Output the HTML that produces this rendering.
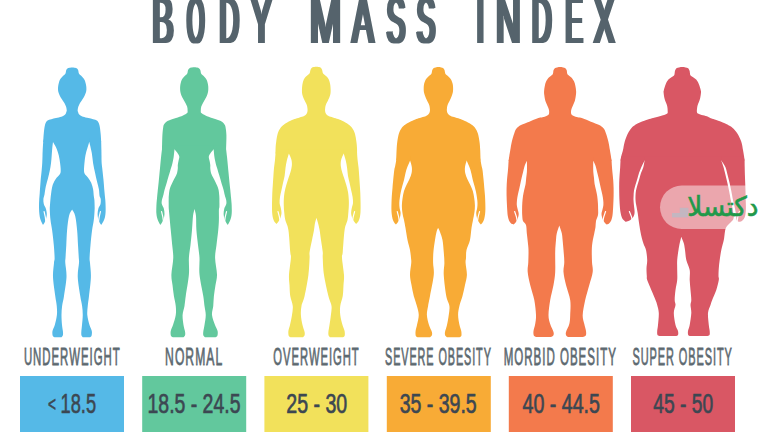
<!DOCTYPE html>
<html><head><meta charset="utf-8"><title>Body Mass Index</title>
<style>
html,body{margin:0;padding:0;background:#fff;}
text{font-kerning:none;}
body{width:768px;height:432px;overflow:hidden;position:relative;}
svg{position:absolute;left:0;top:0;display:block;}
.t{font-family:"Liberation Sans",sans-serif;font-weight:400;fill:#55646c;}
.l{font-family:"Liberation Sans",sans-serif;font-weight:400;fill:#5d6970;stroke:#5d6970;stroke-width:0.6px;vector-effect:non-scaling-stroke;}
.n{font-family:"Liberation Sans",sans-serif;font-weight:400;fill:#3c4752;stroke:#3c4752;stroke-width:0.6px;vector-effect:non-scaling-stroke;}
.wm{font-family:"DejaVu Sans",sans-serif;font-weight:400;fill:#21994a;stroke:#21994a;stroke-width:0.5px;}
</style></head>
<body>
<svg width="768" height="432" viewBox="0 0 768 432">
<defs><filter id="dx" x="-5%" y="-5%" width="110%" height="110%"><feMorphology operator="dilate" radius="1.5 0"/></filter></defs>
<rect width="768" height="432" fill="#ffffff"/>
<g fill="#55b9e7"><path d="M72.2 67.4C71.75 67.45 70.3 67.51 69.5 67.7C68.7 67.89 67.95 68.13 67.4 68.55C66.85 68.98 66.47 69.59 66.2 70.25C65.93 70.91 66 71.83 65.8 72.5C65.6 73.17 65.43 73.75 65 74.3C64.57 74.85 63.8 75.22 63.2 75.8C62.6 76.38 61.97 77.05 61.4 77.75C60.83 78.45 60.22 79.17 59.8 80C59.38 80.83 59.17 81.75 58.9 82.75C58.63 83.75 58.35 84.96 58.2 86C58.05 87.04 57.98 88.04 58 89C58.02 89.96 58.02 90.67 58.3 91.75C58.58 92.83 59.1 94.25 59.7 95.5C60.3 96.75 61.12 98 61.9 99.25C62.68 100.5 63.7 101.75 64.4 103C65.1 104.25 65.71 105.5 66.1 106.75C66.49 108 66.72 109.62 66.75 110.5C66.78 111.38 66.49 111.42 66.3 112C66.11 112.58 66.07 113.37 65.6 114C65.13 114.63 64.22 115.35 63.5 115.8C62.78 116.25 62.55 116.33 61.3 116.7C60.05 117.07 57.67 117.58 56 118C54.33 118.42 52.77 118.73 51.3 119.2C49.83 119.67 48.25 119.83 47.2 120.8C46.15 121.77 45.57 122.92 45 125C44.43 127.08 44.1 130.47 43.8 133.3C43.5 136.13 43.3 140.55 43.2 142L101.2 142C101.1 140.55 100.9 136.13 100.6 133.3C100.3 130.47 99.97 127.08 99.4 125C98.83 122.92 98.25 121.77 97.2 120.8C96.15 119.83 94.57 119.67 93.1 119.2C91.63 118.73 90.07 118.42 88.4 118C86.73 117.58 84.35 117.07 83.1 116.7C81.85 116.33 81.62 116.25 80.9 115.8C80.18 115.35 79.27 114.63 78.8 114C78.33 113.37 78.29 112.58 78.1 112C77.91 111.42 77.62 111.38 77.65 110.5C77.68 109.62 77.91 108 78.3 106.75C78.69 105.5 79.3 104.25 80 103C80.7 101.75 81.72 100.5 82.5 99.25C83.28 98 84.1 96.75 84.7 95.5C85.3 94.25 85.82 92.83 86.1 91.75C86.38 90.67 86.38 89.96 86.4 89C86.42 88.04 86.35 87.04 86.2 86C86.05 84.96 85.77 83.75 85.5 82.75C85.23 81.75 85.02 80.83 84.6 80C84.18 79.17 83.57 78.45 83 77.75C82.43 77.05 81.8 76.38 81.2 75.8C80.6 75.22 79.83 74.85 79.4 74.3C78.97 73.75 78.8 73.17 78.6 72.5C78.4 71.83 78.47 70.91 78.2 70.25C77.93 69.59 77.55 68.98 77 68.55C76.45 68.13 75.7 67.89 74.9 67.7C74.1 67.51 72.65 67.45 72.2 67.4Z"/><path d="M53 142C53.53 142.97 55.23 145.55 56.2 147.8C57.17 150.05 58.15 152.92 58.8 155.5C59.45 158.08 59.78 160.92 60.1 163.3C60.42 165.68 60.7 168.07 60.7 169.8C60.7 171.53 60.75 172.4 60.1 173.7C59.45 175 57.78 176.3 56.8 177.6C55.82 178.9 54.95 180 54.2 181.5C53.45 183 52.83 184.45 52.3 186.6C51.77 188.75 51.32 192.17 51 194.4C50.68 196.63 50.57 198.23 50.4 200C50.23 201.77 50.1 203.33 50 205C49.9 206.67 49.72 207.5 49.8 210C49.88 212.5 50.12 216.67 50.5 220C50.88 223.33 51.55 225.83 52.1 230C52.65 234.17 53.38 240.33 53.8 245C54.22 249.67 54.57 255 54.6 258C54.63 261 54.27 259.83 54 263C53.73 266.17 52.79 271.5 53 277C53.21 282.5 54.62 291.17 55.25 296C55.88 300.83 56.48 302.83 56.75 306C57.02 309.17 57.23 311.83 56.9 315C56.57 318.17 55.53 322.33 54.8 325C54.07 327.67 52.83 329.17 52.5 331C52.17 332.83 52.38 334.95 52.8 336C53.22 337.05 54.63 337.08 55 337.3L61.5 337.3C61.72 337 62.55 336.38 62.8 335.5C63.05 334.62 63.13 333.75 63 332C62.87 330.25 62.25 327.83 62 325C61.75 322.17 61.48 318.17 61.5 315C61.52 311.83 61.68 309.17 62.1 306C62.52 302.83 63.27 300.83 64 296C64.73 291.17 66.28 282.5 66.5 277C66.72 271.5 65.47 266.17 65.3 263C65.13 259.83 65.33 261 65.5 258C65.67 255 66.03 249.67 66.3 245C66.57 240.33 66.65 234.83 67.1 230C67.55 225.17 68.17 219.4 69 216C69.83 212.6 71.58 210.67 72.1 209.6L72.1 209.6C72.62 210.67 74.37 212.6 75.2 216C76.03 219.4 76.63 225.17 77.1 230C77.57 234.83 77.72 240.33 78 245C78.28 249.67 78.63 255 78.8 258C78.97 261 79.17 259.83 79 263C78.83 266.17 77.54 271.5 77.75 277C77.96 282.5 79.53 291.17 80.25 296C80.97 300.83 81.68 302.83 82.1 306C82.52 309.17 82.77 311.83 82.75 315C82.73 318.17 82.24 322.17 82 325C81.76 327.83 81.38 330.25 81.3 332C81.22 333.75 81.25 334.62 81.5 335.5C81.75 336.38 82.58 337 82.8 337.3L89.5 337.3C89.83 337.08 91.12 337.05 91.5 336C91.88 334.95 92.13 332.83 91.8 331C91.47 329.17 90.25 327.67 89.5 325C88.75 322.33 87.59 318.17 87.3 315C87.01 311.83 87.47 309.17 87.75 306C88.03 302.83 88.47 300.83 89 296C89.53 291.17 90.73 282.5 90.9 277C91.07 271.5 90.22 266.17 90 263C89.78 259.83 89.52 261 89.6 258C89.68 255 90.08 249.67 90.5 245C90.92 240.33 91.55 234.17 92.1 230C92.65 225.83 93.38 223.33 93.8 220C94.22 216.67 94.47 212.5 94.6 210C94.73 207.5 94.63 206.67 94.6 205C94.57 203.33 94.53 201.5 94.4 200C94.27 198.5 94.02 197.8 93.8 196C93.58 194.2 93.53 191.42 93.1 189.2C92.67 186.98 92.07 184.63 91.2 182.7C90.33 180.77 88.98 179.1 87.9 177.6C86.82 176.1 85.35 175 84.7 173.7C84.05 172.4 84 171.97 84 169.8C84 167.63 84.37 163.5 84.7 160.7C85.03 157.9 85.23 156.12 86 153C86.77 149.88 88.75 143.83 89.3 142L89.3 138C83.25 138 59.05 138 53 138Z"/><path d="M43.2 142C43.12 143.33 42.82 147.67 42.7 150C42.58 152.33 42.57 154 42.5 156C42.43 158 42.43 159.67 42.3 162C42.17 164.33 41.98 166.83 41.7 170C41.42 173.17 40.93 177.08 40.6 181C40.27 184.92 39.93 190.33 39.7 193.5C39.47 196.67 39.32 197.92 39.2 200C39.08 202.08 39 204 39 206C39 208 39.07 210.17 39.2 212C39.33 213.83 39.5 215.5 39.8 217C40.1 218.5 40.47 219.67 41 221C41.53 222.33 42.67 224.33 43 225L43 225C43.27 224.58 44.1 223.5 44.6 222.5C45.1 221.5 45.63 220.42 46 219C46.37 217.58 46.83 215.75 46.8 214C46.77 212.25 46.3 210.17 45.8 208.5C45.3 206.83 44.2 205.58 43.8 204C43.4 202.42 43.28 200.6 43.4 199C43.52 197.4 44.1 196.47 44.5 194.4C44.9 192.33 45.25 189.18 45.8 186.6C46.35 184.02 47.15 181.48 47.8 178.9C48.45 176.32 49.17 173.7 49.7 171.1C50.23 168.5 50.67 165.9 51 163.3C51.33 160.7 51.48 158.08 51.7 155.5C51.92 152.92 52.08 150.05 52.3 147.8C52.52 145.55 52.88 142.97 53 142L53 138C51.53 138 45.67 138 44.2 138Z"/><path d="M101.2 142C101.23 143.33 101.35 147.67 101.4 150C101.45 152.33 101.47 154 101.5 156C101.53 158 101.48 160 101.6 162C101.72 164 101.9 165.17 102.2 168C102.5 170.83 103.03 175.17 103.4 179C103.77 182.83 104.08 187.5 104.4 191C104.72 194.5 105.1 197.5 105.3 200C105.5 202.5 105.55 204 105.6 206C105.65 208 105.7 210.17 105.6 212C105.5 213.83 105.33 215.5 105 217C104.67 218.5 104.23 219.67 103.6 221C102.97 222.33 101.6 224.33 101.2 225L101.2 225C100.93 224.58 100.1 223.5 99.6 222.5C99.1 221.5 98.53 220.42 98.2 219C97.87 217.58 97.57 215.75 97.6 214C97.63 212.25 97.92 210.17 98.4 208.5C98.88 206.83 100.12 205.58 100.5 204C100.88 202.42 100.85 200.33 100.7 199C100.55 197.67 99.9 197.63 99.6 196C99.3 194.37 99.33 191.62 98.9 189.2C98.47 186.78 97.65 184.3 97 181.5C96.35 178.7 95.65 175.43 95 172.4C94.35 169.37 93.63 166.53 93.1 163.3C92.57 160.07 92.43 156.55 91.8 153C91.17 149.45 89.72 143.83 89.3 142L89.3 138C91.12 138 98.38 138 100.2 138Z"/></g><g stroke="#fff" stroke-width="1.2" stroke-linecap="round" fill="none"><path d="M44.12 211.6Q45.56 217 46 222.5"/><path d="M100.41 211.6Q98.88 217 98.42 222.5"/></g>
<g fill="#62c89d"><path d="M194.2 67.3C193.73 67.35 192.24 67.41 191.41 67.6C190.58 67.79 189.81 68.01 189.24 68.45C188.67 68.89 188.27 69.58 188 70.25C187.73 70.92 187.8 71.83 187.6 72.5C187.4 73.17 187.23 73.75 186.8 74.3C186.37 74.85 185.6 75.22 185 75.8C184.4 76.38 183.75 77.05 183.2 77.75C182.65 78.45 182.1 79.17 181.7 80C181.3 80.83 181.05 81.75 180.8 82.75C180.55 83.75 180.32 84.96 180.2 86C180.08 87.04 180.07 88 180.1 89C180.13 90 180.18 90.92 180.4 92C180.62 93.08 180.93 94.33 181.4 95.5C181.87 96.67 182.52 97.75 183.2 99C183.88 100.25 184.78 101.71 185.45 103C186.12 104.29 186.84 105.5 187.2 106.75C187.56 108 187.6 109.46 187.6 110.5C187.6 111.54 187.97 112.17 187.2 113C186.43 113.83 184.87 114.67 183 115.5C181.13 116.33 178.17 117.25 176 118C173.83 118.75 171.6 119.38 170 120C168.4 120.62 167.4 121 166.4 121.75C165.4 122.5 164.53 123.62 164 124.5C163.47 125.38 163.52 125.25 163.25 127C162.98 128.75 162.61 131.3 162.4 135C162.19 138.7 162.07 146.83 162 149.2L226.1 149.2C226.15 146.83 226.5 138.7 226.4 135C226.3 131.3 225.82 128.75 225.5 127C225.18 125.25 225.08 125.38 224.5 124.5C223.92 123.62 223.08 122.5 222 121.75C220.92 121 219.67 120.62 218 120C216.33 119.38 214.08 118.75 212 118C209.92 117.25 207.28 116.33 205.5 115.5C203.72 114.67 202.08 113.83 201.3 113C200.52 112.17 200.82 111.54 200.8 110.5C200.78 109.46 200.84 108 201.2 106.75C201.56 105.5 202.28 104.29 202.95 103C203.62 101.71 204.52 100.25 205.2 99C205.88 97.75 206.53 96.67 207 95.5C207.47 94.33 207.78 93.08 208 92C208.22 90.92 208.27 90 208.3 89C208.33 88 208.32 87.04 208.2 86C208.08 84.96 207.85 83.75 207.6 82.75C207.35 81.75 207.1 80.83 206.7 80C206.3 79.17 205.75 78.45 205.2 77.75C204.65 77.05 204 76.38 203.4 75.8C202.8 75.22 202.03 74.85 201.6 74.3C201.17 73.75 201 73.17 200.8 72.5C200.6 71.83 200.67 70.92 200.4 70.25C200.13 69.58 199.73 68.89 199.16 68.45C198.59 68.01 197.82 67.79 196.99 67.6C196.16 67.41 194.66 67.35 194.2 67.3Z"/><path d="M174.5 149.2C175 149.83 176.7 151.75 177.5 153C178.3 154.25 179.13 155.37 179.3 156.7C179.47 158.03 178.75 159.62 178.5 161C178.25 162.38 177.92 163.78 177.8 165C177.68 166.22 177.93 166.92 177.8 168.3C177.67 169.68 177.47 171.77 177 173.3C176.53 174.83 175.7 176.1 175 177.5C174.3 178.9 173.5 180.28 172.8 181.7C172.1 183.12 171.35 184.62 170.8 186C170.25 187.38 169.82 188.5 169.5 190C169.18 191.5 169.03 193.62 168.9 195C168.77 196.38 168.73 196.35 168.7 198.3C168.67 200.25 168.67 204.75 168.7 206.7C168.73 208.65 168.72 207.78 168.9 210C169.08 212.22 169.49 216.67 169.8 220C170.11 223.33 170.35 225.83 170.75 230C171.15 234.17 171.78 240.33 172.2 245C172.62 249.67 173.38 253.08 173.25 258C173.12 262.92 171.53 270 171.4 274.5C171.28 279 172.08 281.42 172.5 285C172.92 288.58 173.36 292.5 173.9 296C174.44 299.5 175.44 302.83 175.75 306C176.06 309.17 176.21 311.83 175.75 315C175.29 318.17 173.83 322.33 173 325C172.17 327.67 171.08 329.17 170.75 331C170.42 332.83 170.54 334.95 171 336C171.46 337.05 173.08 337.08 173.5 337.3L183.5 337.3C183.75 337 184.73 336.38 185 335.5C185.27 334.62 185.35 333.75 185.1 332C184.85 330.25 183.92 327.83 183.5 325C183.08 322.17 182.43 318.17 182.6 315C182.77 311.83 183.97 309.17 184.5 306C185.03 302.83 185.02 301.25 185.75 296C186.48 290.75 188.38 280.83 188.9 274.5C189.43 268.17 188.63 262.92 188.9 258C189.17 253.08 189.98 249.67 190.5 245C191.02 240.33 191.58 234.83 192 230C192.42 225.17 192.58 219.5 193 216C193.42 212.5 194.25 210.17 194.5 209L194.5 209C194.75 210.17 195.68 212.5 196 216C196.32 219.5 196.07 225.17 196.4 230C196.73 234.83 197.48 240.33 198 245C198.52 249.67 199.25 253.08 199.5 258C199.75 262.92 198.88 268.17 199.5 274.5C200.12 280.83 202.42 290.75 203.25 296C204.08 301.25 204.08 302.83 204.5 306C204.92 309.17 205.75 311.83 205.75 315C205.75 318.17 204.92 322.17 204.5 325C204.08 327.83 203.43 330.25 203.25 332C203.07 333.75 203.11 334.62 203.4 335.5C203.69 336.38 204.73 337 205 337.3L215 337.3C215.38 337.08 216.87 337.05 217.3 336C217.73 334.95 217.98 332.83 217.6 331C217.22 329.17 215.93 327.67 215 325C214.07 322.33 212.29 318.17 212 315C211.71 311.83 212.93 309.17 213.25 306C213.57 302.83 213.53 299.5 213.9 296C214.28 292.5 214.98 288.58 215.5 285C216.02 281.42 217.07 279 217 274.5C216.93 270 215.18 262.92 215.1 258C215.02 253.08 215.97 249.67 216.5 245C217.03 240.33 217.85 234.17 218.25 230C218.65 225.83 218.79 223.33 218.9 220C219.01 216.67 218.82 212.22 218.9 210C218.98 207.78 219.32 208.65 219.4 206.7C219.48 204.75 219.43 200.25 219.4 198.3C219.37 196.35 219.33 196.38 219.2 195C219.07 193.62 218.92 191.5 218.6 190C218.28 188.5 217.85 187.38 217.3 186C216.75 184.62 216 183.12 215.3 181.7C214.6 180.28 213.8 178.9 213.1 177.5C212.4 176.1 211.57 174.83 211.1 173.3C210.63 171.77 210.43 169.68 210.3 168.3C210.17 166.92 210.42 166.22 210.3 165C210.18 163.78 209.85 162.38 209.6 161C209.35 159.62 208.63 158.03 208.8 156.7C208.97 155.37 209.8 154.25 210.6 153C211.4 151.75 213.1 149.83 213.6 149.2L213.6 145.2C207.08 145.2 181.02 145.2 174.5 145.2Z"/><path d="M162 149.2C161.85 150.45 161.38 154.07 161.1 156.7C160.82 159.33 160.57 162.23 160.3 165C160.03 167.77 159.77 170.52 159.5 173.3C159.23 176.08 158.98 178.92 158.7 181.7C158.42 184.48 158.08 187.23 157.8 190C157.52 192.77 157.22 195.97 157 198.3C156.78 200.63 156.62 202.05 156.5 204C156.38 205.95 156.32 208.42 156.3 210C156.28 211.58 156.3 212.33 156.4 213.5C156.5 214.67 156.6 215.75 156.9 217C157.2 218.25 157.63 219.67 158.2 221C158.77 222.33 159.95 224.33 160.3 225L160.3 225C160.58 224.58 161.45 223.5 162 222.5C162.55 221.5 163.18 220.42 163.6 219C164.02 217.58 164.47 215.75 164.5 214C164.53 212.25 164.25 210.17 163.8 208.5C163.35 206.83 162.12 205.42 161.8 204C161.48 202.58 161.73 201.17 161.9 200C162.07 198.83 162.53 197.92 162.8 197C163.07 196.08 163.22 195.67 163.5 194.5C163.78 193.33 164.13 191.42 164.5 190C164.87 188.58 165.28 187.38 165.7 186C166.12 184.62 166.58 183.12 167 181.7C167.42 180.28 167.78 178.9 168.2 177.5C168.62 176.1 169.08 174.72 169.5 173.3C169.92 171.88 170.28 170.38 170.7 169C171.12 167.62 171.63 166.33 172 165C172.37 163.67 172.62 162.38 172.9 161C173.18 159.62 173.43 158.67 173.7 156.7C173.97 154.73 174.37 150.45 174.5 149.2L174.5 145.2C172.58 145.2 164.92 145.2 163 145.2Z"/><path d="M226.1 149.2C226.25 150.45 226.72 154.07 227 156.7C227.28 159.33 227.53 162.23 227.8 165C228.07 167.77 228.33 170.52 228.6 173.3C228.87 176.08 229.12 178.92 229.4 181.7C229.68 184.48 230.02 187.23 230.3 190C230.58 192.77 230.88 195.97 231.1 198.3C231.32 200.63 231.48 202.05 231.6 204C231.72 205.95 231.78 208.42 231.8 210C231.82 211.58 231.8 212.33 231.7 213.5C231.6 214.67 231.5 215.75 231.2 217C230.9 218.25 230.47 219.67 229.9 221C229.33 222.33 228.15 224.33 227.8 225L227.8 225C227.52 224.58 226.65 223.5 226.1 222.5C225.55 221.5 224.92 220.42 224.5 219C224.08 217.58 223.63 215.75 223.6 214C223.57 212.25 223.85 210.17 224.3 208.5C224.75 206.83 225.98 205.42 226.3 204C226.62 202.58 226.37 201.17 226.2 200C226.03 198.83 225.57 197.92 225.3 197C225.03 196.08 224.88 195.67 224.6 194.5C224.32 193.33 223.97 191.42 223.6 190C223.23 188.58 222.82 187.38 222.4 186C221.98 184.62 221.52 183.12 221.1 181.7C220.68 180.28 220.32 178.9 219.9 177.5C219.48 176.1 219.02 174.72 218.6 173.3C218.18 171.88 217.82 170.38 217.4 169C216.98 167.62 216.47 166.33 216.1 165C215.73 163.67 215.48 162.38 215.2 161C214.92 159.62 214.67 158.67 214.4 156.7C214.13 154.73 213.73 150.45 213.6 149.2L213.6 145.2C215.52 145.2 223.18 145.2 225.1 145.2Z"/></g><g stroke="#fff" stroke-width="1.2" stroke-linecap="round" fill="none"><path d="M161.58 211.6Q163.15 217 163.62 222.5"/><path d="M226.52 211.6Q224.95 217 224.48 222.5"/></g>
<g fill="#f2e15b"><path d="M316.3 66.8C315.86 66.85 314.43 66.91 313.65 67.1C312.86 67.29 312.12 67.42 311.58 67.95C311.04 68.48 310.66 69.53 310.4 70.25C310.14 70.97 310.15 71.77 310 72.3C309.85 72.83 309.87 72.95 309.5 73.4C309.13 73.85 308.38 74.48 307.8 75C307.22 75.52 306.67 75.73 306 76.5C305.33 77.27 304.4 78.25 303.8 79.6C303.2 80.95 302.71 82.82 302.4 84.6C302.09 86.38 301.98 88.68 301.95 90.25C301.92 91.82 302.01 92.88 302.2 94C302.39 95.12 302.73 96 303.1 97C303.47 98 303.78 98.67 304.4 100C305.02 101.33 306.3 103.67 306.8 105C307.3 106.33 307.28 107.08 307.4 108C307.53 108.92 307.63 109.62 307.55 110.5C307.47 111.38 307.32 112.47 306.9 113.3C306.47 114.13 305.82 114.93 305 115.5C304.18 116.07 303.33 116.23 302 116.7C300.67 117.17 298.67 117.75 297 118.3C295.33 118.85 293.87 119.17 292 120C290.13 120.83 287.42 122.3 285.8 123.3C284.18 124.3 283.22 125.17 282.3 126C281.38 126.83 281.05 127.08 280.3 128.3C279.55 129.52 278.48 131.07 277.8 133.3C277.12 135.53 276.57 139.25 276.2 141.7C275.83 144.15 275.72 146.03 275.6 148C275.48 149.97 275.52 152.58 275.5 153.5L357.1 153.5C357.08 152.58 357.12 149.97 357 148C356.88 146.03 356.77 144.15 356.4 141.7C356.03 139.25 355.48 135.53 354.8 133.3C354.12 131.07 353.05 129.52 352.3 128.3C351.55 127.08 351.22 126.83 350.3 126C349.38 125.17 348.42 124.3 346.8 123.3C345.18 122.3 342.47 120.83 340.6 120C338.73 119.17 337.27 118.85 335.6 118.3C333.93 117.75 331.93 117.17 330.6 116.7C329.27 116.23 328.42 116.07 327.6 115.5C326.78 114.93 326.13 114.13 325.7 113.3C325.28 112.47 325.13 111.38 325.05 110.5C324.97 109.62 325.07 108.92 325.2 108C325.32 107.08 325.3 106.33 325.8 105C326.3 103.67 327.58 101.33 328.2 100C328.82 98.67 329.13 98 329.5 97C329.87 96 330.21 95.12 330.4 94C330.59 92.88 330.68 91.82 330.65 90.25C330.62 88.68 330.51 86.38 330.2 84.6C329.89 82.82 329.4 80.95 328.8 79.6C328.2 78.25 327.27 77.27 326.6 76.5C325.93 75.73 325.38 75.52 324.8 75C324.22 74.48 323.47 73.85 323.1 73.4C322.73 72.95 322.75 72.83 322.6 72.3C322.45 71.77 322.46 70.97 322.2 70.25C321.94 69.53 321.56 68.48 321.02 67.95C320.48 67.42 319.74 67.29 318.95 67.1C318.17 66.91 316.74 66.85 316.3 66.8Z"/><path d="M288.9 153.5C289.33 154.58 291.02 157.92 291.5 160C291.98 162.08 291.97 164 291.8 166C291.63 168 291.05 170 290.5 172C289.95 174 289.2 175.83 288.5 178C287.8 180.17 286.95 182.67 286.3 185C285.65 187.33 285.02 189.5 284.6 192C284.18 194.5 283.93 197.67 283.8 200C283.67 202.33 283.73 204 283.8 206C283.87 208 283.95 209.67 284.2 212C284.45 214.33 284.6 217 285.3 220C286 223 287.57 224.67 288.4 230C289.22 235.33 289.83 247.33 290.25 252C290.67 256.67 291.11 254.17 290.9 258C290.69 261.83 289.23 270.5 289 275C288.77 279.5 289.29 281.5 289.5 285C289.71 288.5 289.71 292.5 290.25 296C290.79 299.5 292.46 302.83 292.75 306C293.04 309.17 292.46 311.83 292 315C291.54 318.17 290.6 322.33 290 325C289.4 327.67 288.6 329.17 288.4 331C288.2 332.83 288.37 334.95 288.8 336C289.23 337.05 290.63 337.08 291 337.3L303 337.3C303.25 337 304.23 336.38 304.5 335.5C304.77 334.62 304.93 333.75 304.6 332C304.27 330.25 303.12 327.83 302.5 325C301.88 322.17 301.07 318.17 300.9 315C300.73 311.83 300.88 309.17 301.5 306C302.12 302.83 303.45 301.17 304.6 296C305.75 290.83 307.57 281.33 308.4 275C309.23 268.67 309.4 261.83 309.6 258C309.8 254.17 309.2 255 309.6 252C310 249 311.27 243.67 312 240C312.73 236.33 313.5 232.83 314 230C314.5 227.17 314.58 225.04 315 223C315.42 220.96 316.25 218.62 316.5 217.75L316.5 217.75C316.75 218.62 317.48 220.96 318 223C318.52 225.04 319.1 227.17 319.6 230C320.1 232.83 320.48 236.33 321 240C321.52 243.67 322.46 249 322.75 252C323.04 255 322.54 254.17 322.75 258C322.96 261.83 323.06 268.67 324 275C324.94 281.33 327.15 290.83 328.4 296C329.65 301.17 331.08 302.83 331.5 306C331.92 309.17 331.23 311.83 330.9 315C330.57 318.17 329.92 322.17 329.5 325C329.08 327.83 328.55 330.25 328.4 332C328.25 333.75 328.33 334.62 328.6 335.5C328.87 336.38 329.77 337 330 337.3L342.5 337.3C342.85 337.08 344.25 337.05 344.6 336C344.95 334.95 344.95 332.83 344.6 331C344.25 329.17 343.23 327.67 342.5 325C341.77 322.33 340.62 318.17 340.25 315C339.88 311.83 339.83 309.17 340.25 306C340.67 302.83 342.21 299.5 342.75 296C343.29 292.5 343.29 288.5 343.5 285C343.71 281.5 344.25 279.5 344 275C343.75 270.5 342.21 261.83 342 258C341.79 254.17 342.32 256.67 342.75 252C343.18 247.33 343.81 235.33 344.6 230C345.39 224.67 346.87 223 347.5 220C348.13 217 348.18 214.33 348.4 212C348.62 209.67 348.73 208 348.8 206C348.87 204 348.93 202.33 348.8 200C348.67 197.67 348.42 194.5 348 192C347.58 189.5 346.95 187.33 346.3 185C345.65 182.67 344.8 180.17 344.1 178C343.4 175.83 342.65 174 342.1 172C341.55 170 340.97 168 340.8 166C340.63 164 340.62 162.08 341.1 160C341.58 157.92 343.27 154.58 343.7 153.5L343.7 149.5C334.57 149.5 298.03 149.5 288.9 149.5Z"/><path d="M275.5 153.5C275.42 154.58 275.25 157.58 275 160C274.75 162.42 274.27 165.33 274 168C273.73 170.67 273.6 173.17 273.4 176C273.2 178.83 272.98 182.17 272.8 185C272.62 187.83 272.42 190.5 272.3 193C272.18 195.5 272.15 197.83 272.1 200C272.05 202.17 272 204 272 206C272 208 271.98 210.17 272.1 212C272.22 213.83 272.38 215.5 272.7 217C273.02 218.5 273.37 219.83 274 221C274.63 222.17 276.08 223.5 276.5 224L276.5 224C276.83 223.58 277.85 222.5 278.5 221.5C279.15 220.5 279.9 219.42 280.4 218C280.9 216.58 281.43 214.67 281.5 213C281.57 211.33 281.12 209.67 280.8 208C280.48 206.33 279.73 204.83 279.6 203C279.47 201.17 279.68 199.17 280 197C280.32 194.83 281 192.33 281.5 190C282 187.67 282.48 185.33 283 183C283.52 180.67 284.18 178.5 284.6 176C285.02 173.5 285.13 170.53 285.5 168C285.87 165.47 286.23 163.22 286.8 160.8C287.37 158.38 288.55 154.72 288.9 153.5L288.9 149.5C286.83 149.5 278.57 149.5 276.5 149.5Z"/><path d="M357.1 153.5C357.18 154.58 357.35 157.58 357.6 160C357.85 162.42 358.33 165.33 358.6 168C358.87 170.67 359 173.17 359.2 176C359.4 178.83 359.62 182.17 359.8 185C359.98 187.83 360.18 190.5 360.3 193C360.42 195.5 360.45 197.83 360.5 200C360.55 202.17 360.6 204 360.6 206C360.6 208 360.62 210.17 360.5 212C360.38 213.83 360.22 215.5 359.9 217C359.58 218.5 359.23 219.83 358.6 221C357.97 222.17 356.52 223.5 356.1 224L356.1 224C355.77 223.58 354.75 222.5 354.1 221.5C353.45 220.5 352.7 219.42 352.2 218C351.7 216.58 351.17 214.67 351.1 213C351.03 211.33 351.48 209.67 351.8 208C352.12 206.33 352.87 204.83 353 203C353.13 201.17 352.92 199.17 352.6 197C352.28 194.83 351.6 192.33 351.1 190C350.6 187.67 350.12 185.33 349.6 183C349.08 180.67 348.42 178.5 348 176C347.58 173.5 347.47 170.53 347.1 168C346.73 165.47 346.37 163.22 345.8 160.8C345.23 158.38 344.05 154.72 343.7 153.5L343.7 149.5C345.77 149.5 354.03 149.5 356.1 149.5Z"/></g><g stroke="#fff" stroke-width="1.2" stroke-linecap="round" fill="none"><path d="M278.01 211.6Q279.77 217 280.29 222.5"/><path d="M354.59 211.6Q352.83 217 352.31 222.5"/></g>
<g fill="#f8ab36"><path d="M438.4 67.1C437.93 67.15 436.44 67.21 435.61 67.4C434.78 67.59 434.01 67.78 433.44 68.25C432.87 68.72 432.47 69.54 432.2 70.25C431.93 70.96 431.98 71.83 431.8 72.5C431.62 73.17 431.53 73.75 431.1 74.3C430.67 74.85 429.85 75.22 429.2 75.8C428.55 76.38 427.82 77.05 427.2 77.75C426.58 78.45 426.02 78.96 425.5 80C424.98 81.04 424.4 82.67 424.1 84C423.8 85.33 423.73 86.67 423.7 88C423.67 89.33 423.67 90.67 423.9 92C424.13 93.33 424.62 94.67 425.1 96C425.58 97.33 426.12 98.5 426.8 100C427.48 101.5 428.7 103.67 429.2 105C429.7 106.33 429.67 107.08 429.8 108C429.92 108.92 430.05 109.62 429.95 110.5C429.85 111.38 429.69 112.47 429.2 113.3C428.71 114.13 427.87 114.93 427 115.5C426.13 116.07 425.42 116.23 424 116.7C422.58 117.17 420.17 117.75 418.5 118.3C416.83 118.85 415.87 119.17 414 120C412.13 120.83 409.05 122.3 407.3 123.3C405.55 124.3 404.47 125.17 403.5 126C402.53 126.83 402.25 127.08 401.5 128.3C400.75 129.52 399.7 131.07 399 133.3C398.3 135.53 397.7 138.92 397.3 141.7C396.9 144.48 396.78 146.87 396.6 150C396.42 153.13 396.27 158.75 396.2 160.5L480.6 160.5C480.53 158.75 480.38 153.13 480.2 150C480.02 146.87 479.9 144.48 479.5 141.7C479.1 138.92 478.5 135.53 477.8 133.3C477.1 131.07 476.05 129.52 475.3 128.3C474.55 127.08 474.27 126.83 473.3 126C472.33 125.17 471.25 124.3 469.5 123.3C467.75 122.3 464.67 120.83 462.8 120C460.93 119.17 459.97 118.85 458.3 118.3C456.63 117.75 454.22 117.17 452.8 116.7C451.38 116.23 450.67 116.07 449.8 115.5C448.93 114.93 448.09 114.13 447.6 113.3C447.11 112.47 446.95 111.38 446.85 110.5C446.75 109.62 446.88 108.92 447 108C447.12 107.08 447.1 106.33 447.6 105C448.1 103.67 449.32 101.5 450 100C450.68 98.5 451.22 97.33 451.7 96C452.18 94.67 452.67 93.33 452.9 92C453.13 90.67 453.13 89.33 453.1 88C453.07 86.67 453 85.33 452.7 84C452.4 82.67 451.82 81.04 451.3 80C450.78 78.96 450.22 78.45 449.6 77.75C448.98 77.05 448.25 76.38 447.6 75.8C446.95 75.22 446.13 74.85 445.7 74.3C445.27 73.75 445.18 73.17 445 72.5C444.82 71.83 444.87 70.96 444.6 70.25C444.33 69.54 443.93 68.72 443.36 68.25C442.79 67.78 442.02 67.59 441.19 67.4C440.36 67.21 438.87 67.15 438.4 67.1Z"/><path d="M410.1 160.5C410.38 161.58 411.55 164.92 411.8 167C412.05 169.08 411.98 171 411.6 173C411.22 175 410.35 177 409.5 179C408.65 181 407.42 183 406.5 185C405.58 187 404.65 188.83 404 191C403.35 193.17 402.95 195.67 402.6 198C402.25 200.33 401.97 202.83 401.9 205C401.83 207.17 402.02 209.17 402.2 211C402.38 212.83 402.7 214.5 403 216C403.3 217.5 403.58 218 404 220C404.42 222 404.92 224.67 405.5 228C406.08 231.33 406.75 236.33 407.5 240C408.25 243.67 409.42 247 410 250C410.58 253 410.79 255.83 411 258C411.21 260.17 411.42 260.17 411.25 263C411.08 265.83 409.96 271.33 410 275C410.04 278.67 410.88 281.5 411.5 285C412.12 288.5 412.85 292.5 413.75 296C414.65 299.5 416.07 302.83 416.9 306C417.73 309.17 418.73 311.83 418.75 315C418.77 318.17 417.52 322.33 417 325C416.48 327.67 415.8 329.17 415.6 331C415.4 332.83 415.4 334.95 415.8 336C416.2 337.05 417.63 337.08 418 337.3L430 337.3C430.3 337 431.48 336.38 431.8 335.5C432.12 334.62 432.37 333.75 431.9 332C431.43 330.25 429.83 327.83 429 325C428.17 322.17 427.05 318.17 426.9 315C426.75 311.83 427.58 309.17 428.1 306C428.62 302.83 429.06 301.17 430 296C430.94 290.83 433.23 280.5 433.75 275C434.27 269.5 433.16 266.83 433.1 263C433.04 259.17 433.08 255.83 433.4 252C433.72 248.17 434.48 243.33 435 240C435.52 236.67 435.98 234.04 436.5 232C437.02 229.96 437.83 228.46 438.1 227.75L438.1 227.75C438.42 228.46 439.27 229.96 440 232C440.73 234.04 441.88 236.67 442.5 240C443.12 243.33 443.43 248.17 443.75 252C444.07 255.83 444.4 259.17 444.4 263C444.4 266.83 443.44 269.5 443.75 275C444.06 280.5 445.31 290.83 446.25 296C447.19 301.17 448.98 302.83 449.4 306C449.82 309.17 449.15 311.83 448.75 315C448.35 318.17 447.62 322.17 447 325C446.38 327.83 445.3 330.25 445 332C444.7 333.75 444.87 334.62 445.2 335.5C445.53 336.38 446.7 337 447 337.3L459 337.3C459.38 337.08 460.93 337.05 461.3 336C461.68 334.95 461.55 332.83 461.25 331C460.95 329.17 460.02 327.67 459.5 325C458.98 322.33 458.12 318.17 458.1 315C458.08 311.83 458.67 309.17 459.4 306C460.13 302.83 461.57 299.5 462.5 296C463.43 292.5 464.27 288.5 465 285C465.73 281.5 466.8 278.67 466.9 275C467 271.33 465.75 265.83 465.6 263C465.45 260.17 465.85 260.17 466 258C466.15 255.83 465.83 253 466.5 250C467.17 247 469.17 243.67 470 240C470.83 236.33 471 231.33 471.5 228C472 224.67 472.62 222 473 220C473.38 218 473.53 217.5 473.8 216C474.07 214.5 474.42 212.83 474.6 211C474.78 209.17 474.97 207.17 474.9 205C474.83 202.83 474.55 200.33 474.2 198C473.85 195.67 473.45 193.17 472.8 191C472.15 188.83 471.22 187 470.3 185C469.38 183 468.15 181 467.3 179C466.45 177 465.58 175 465.2 173C464.82 171 464.75 169.08 465 167C465.25 164.92 466.42 161.58 466.7 160.5L466.7 156.5C457.27 156.5 419.53 156.5 410.1 156.5Z"/><path d="M396.2 160.5C396.03 161.42 395.52 164.42 395.2 166C394.88 167.58 394.63 167.67 394.3 170C393.97 172.33 393.5 177 393.2 180C392.9 183 392.73 185.33 392.5 188C392.27 190.67 391.97 193.5 391.8 196C391.63 198.5 391.57 200.83 391.5 203C391.43 205.17 391.37 207.17 391.4 209C391.43 210.83 391.5 212.33 391.7 214C391.9 215.67 392.18 217.58 392.6 219C393.02 220.42 393.63 221.58 394.2 222.5C394.77 223.42 395.7 224.17 396 224.5L396 224.5C396.33 224.08 397.37 223.08 398 222C398.63 220.92 399.37 219.5 399.8 218C400.23 216.5 400.63 214.67 400.6 213C400.57 211.33 399.82 209.67 399.6 208C399.38 206.33 399.27 204.67 399.3 203C399.33 201.33 399.55 199.83 399.8 198C400.05 196.17 400.38 194 400.8 192C401.22 190 401.77 188 402.3 186C402.83 184 403.5 182 404 180C404.5 178 404.8 176 405.3 174C405.8 172 406.2 170.25 407 168C407.8 165.75 409.58 161.75 410.1 160.5L410.1 156.5C407.95 156.5 399.35 156.5 397.2 156.5Z"/><path d="M480.6 160.5C480.77 161.42 481.28 164.42 481.6 166C481.92 167.58 482.17 167.67 482.5 170C482.83 172.33 483.3 177 483.6 180C483.9 183 484.07 185.33 484.3 188C484.53 190.67 484.83 193.5 485 196C485.17 198.5 485.23 200.83 485.3 203C485.37 205.17 485.43 207.17 485.4 209C485.37 210.83 485.3 212.33 485.1 214C484.9 215.67 484.62 217.58 484.2 219C483.78 220.42 483.17 221.58 482.6 222.5C482.03 223.42 481.1 224.17 480.8 224.5L480.8 224.5C480.47 224.08 479.43 223.08 478.8 222C478.17 220.92 477.43 219.5 477 218C476.57 216.5 476.17 214.67 476.2 213C476.23 211.33 476.98 209.67 477.2 208C477.42 206.33 477.53 204.67 477.5 203C477.47 201.33 477.25 199.83 477 198C476.75 196.17 476.42 194 476 192C475.58 190 475.03 188 474.5 186C473.97 184 473.3 182 472.8 180C472.3 178 472 176 471.5 174C471 172 470.6 170.25 469.8 168C469 165.75 467.22 161.75 466.7 160.5L466.7 156.5C468.85 156.5 477.45 156.5 479.6 156.5Z"/></g><g stroke="#fff" stroke-width="1.2" stroke-linecap="round" fill="none"><path d="M397.27 211.6Q398.99 217 399.5 222.5"/><path d="M479.53 211.6Q477.81 217 477.3 222.5"/></g>
<g fill="#f37a4c"><path d="M560.1 67.1C559.61 67.15 558.01 67.21 557.13 67.4C556.25 67.59 555.43 67.78 554.82 68.25C554.22 68.72 553.77 69.54 553.5 70.25C553.23 70.96 553.35 71.78 553.2 72.5C553.05 73.22 553.05 73.98 552.6 74.6C552.15 75.22 551.17 75.67 550.5 76.2C549.83 76.73 549.33 76.87 548.6 77.75C547.87 78.63 546.73 80.14 546.1 81.5C545.47 82.86 545.13 84.33 544.8 85.9C544.47 87.47 544.18 89.38 544.1 90.9C544.02 92.42 544.08 93.32 544.3 95C544.52 96.68 544.87 99.17 545.4 101C545.93 102.83 546.9 104.5 547.5 106C548.1 107.5 548.77 108.67 549 110C549.23 111.33 549.32 113 548.9 114C548.48 115 547.57 115.45 546.5 116C545.43 116.55 543.97 116.92 542.5 117.3C541.03 117.68 539.9 117.57 537.7 118.3C535.5 119.03 532.08 120.58 529.3 121.7C526.52 122.82 523.13 123.87 521 125C518.87 126.13 517.62 127.12 516.5 128.5C515.38 129.88 515.08 131.1 514.3 133.3C513.52 135.5 512.47 138.92 511.8 141.7C511.13 144.48 510.72 147.62 510.3 150C509.88 152.38 509.58 154.17 509.3 156C509.02 157.83 508.72 160.17 508.6 161L611.6 161C611.48 160.17 611.18 157.83 610.9 156C610.62 154.17 610.32 152.38 609.9 150C609.48 147.62 609.07 144.48 608.4 141.7C607.73 138.92 606.68 135.5 605.9 133.3C605.12 131.1 604.82 129.88 603.7 128.5C602.58 127.12 601.33 126.13 599.2 125C597.07 123.87 593.68 122.82 590.9 121.7C588.12 120.58 584.7 119.03 582.5 118.3C580.3 117.57 579.17 117.68 577.7 117.3C576.23 116.92 574.77 116.55 573.7 116C572.63 115.45 571.72 115 571.3 114C570.88 113 570.97 111.33 571.2 110C571.43 108.67 572.1 107.5 572.7 106C573.3 104.5 574.27 102.83 574.8 101C575.33 99.17 575.68 96.68 575.9 95C576.12 93.32 576.18 92.42 576.1 90.9C576.02 89.38 575.73 87.47 575.4 85.9C575.07 84.33 574.73 82.86 574.1 81.5C573.47 80.14 572.33 78.63 571.6 77.75C570.87 76.87 570.37 76.73 569.7 76.2C569.03 75.67 568.05 75.22 567.6 74.6C567.15 73.98 567.15 73.22 567 72.5C566.85 71.78 566.97 70.96 566.7 70.25C566.43 69.54 565.99 68.72 565.38 68.25C564.77 67.78 563.95 67.59 563.07 67.4C562.19 67.21 560.6 67.15 560.1 67.1Z"/><path d="M526.9 161C526.92 161.83 527 164.17 527 166C527 167.83 527.03 170 526.9 172C526.77 174 526.42 176 526.2 178C525.98 180 525.93 182 525.6 184C525.27 186 524.63 188 524.2 190C523.77 192 523.32 193.83 523 196C522.68 198.17 522.45 200.83 522.3 203C522.15 205.17 522.12 207 522.1 209C522.08 211 522.05 213 522.2 215C522.35 217 522.37 219.33 523 221C523.63 222.67 525.37 222.95 526 225C526.63 227.05 526.5 230.47 526.8 233.3C527.1 236.13 527.52 239.22 527.8 242C528.08 244.78 528.42 246.67 528.5 250C528.58 253.33 528.43 258.33 528.3 262C528.17 265.67 527.38 268.17 527.7 272C528.02 275.83 529.1 280.33 530.2 285C531.3 289.67 533.33 295 534.3 300C535.27 305 535.85 311 536 315C536.15 319 535.62 321.33 535.2 324C534.78 326.67 533.73 329.08 533.5 331C533.27 332.92 533.38 334.5 533.8 335.5C534.22 336.5 535.63 336.75 536 337L551 337C551.38 336.75 552.88 336.33 553.3 335.5C553.72 334.67 554.02 333.92 553.5 332C552.98 330.08 551.03 326.83 550.2 324C549.37 321.17 548.5 319 548.5 315C548.5 311 549.37 305 550.2 300C551.03 295 552.67 289.67 553.5 285C554.33 280.33 554.92 277.5 555.2 272C555.48 266.5 555.07 257.33 555.2 252C555.33 246.67 555.73 243.12 556 240C556.27 236.88 556.25 235.72 556.8 233.3C557.35 230.88 558.88 226.8 559.3 225.5L559.3 225.5C559.72 226.8 561.25 230.88 561.8 233.3C562.35 235.72 562.32 237.22 562.6 240C562.88 242.78 563.22 246.33 563.5 250C563.78 253.67 564.3 258.33 564.3 262C564.3 265.67 563.22 268.17 563.5 272C563.78 275.83 564.88 280.33 566 285C567.12 289.67 569.5 295 570.2 300C570.9 305 570.35 311 570.2 315C570.05 319 570 321.17 569.3 324C568.6 326.83 566.52 330.08 566 332C565.48 333.92 565.87 334.67 566.2 335.5C566.53 336.33 567.7 336.75 568 337L583 337C583.47 336.75 585.3 336.5 585.8 335.5C586.3 334.5 586.25 332.92 586 331C585.75 329.08 584.85 326.67 584.3 324C583.75 321.33 582.55 319 582.7 315C582.85 311 584.1 305 585.2 300C586.3 295 588.05 289.67 589.3 285C590.55 280.33 592.25 275.83 592.7 272C593.15 268.17 592.15 265.67 592 262C591.85 258.33 591.72 253.33 591.8 250C591.88 246.67 592.08 244.78 592.5 242C592.92 239.22 593.8 235.8 594.3 233.3C594.8 230.8 595.22 229.05 595.5 227C595.78 224.95 595.58 223 596 221C596.42 219 597.65 217 598 215C598.35 213 598.12 211 598.1 209C598.08 207 598.05 205.17 597.9 203C597.75 200.83 597.52 198.17 597.2 196C596.88 193.83 596.43 192 596 190C595.57 188 594.93 186 594.6 184C594.27 182 594.22 180 594 178C593.78 176 593.43 174 593.3 172C593.17 170 593.2 167.83 593.2 166C593.2 164.17 593.28 161.83 593.3 161L593.3 157C582.23 157 537.97 157 526.9 157Z"/><path d="M508.6 161C508.55 161.83 508.43 164.17 508.3 166C508.17 167.83 508.02 169.67 507.8 172C507.58 174.33 507.2 177.33 507 180C506.8 182.67 506.67 185.33 506.6 188C506.53 190.67 506.55 193.33 506.6 196C506.65 198.67 506.78 201.5 506.9 204C507.02 206.5 507.15 209 507.3 211C507.45 213 507.52 214.42 507.8 216C508.08 217.58 508.43 219.25 509 220.5C509.57 221.75 510.45 222.83 511.2 223.5C511.95 224.17 513.12 224.33 513.5 224.5L513.5 224.5C513.85 224.17 514.92 223.42 515.6 222.5C516.28 221.58 517.08 220.42 517.6 219C518.12 217.58 518.7 215.67 518.7 214C518.7 212.33 517.92 210.5 517.6 209C517.28 207.5 516.9 206.5 516.8 205C516.7 203.5 516.82 201.75 517 200C517.18 198.25 517.53 196.33 517.9 194.5C518.27 192.67 518.78 190.83 519.2 189C519.62 187.17 520 185.33 520.4 183.5C520.8 181.67 521.15 179.92 521.6 178C522.05 176.08 522.6 174 523.1 172C523.6 170 523.97 167.83 524.6 166C525.23 164.17 526.52 161.83 526.9 161L526.9 157C524.02 157 512.48 157 509.6 157Z"/><path d="M611.6 161C611.65 161.83 611.77 164.17 611.9 166C612.03 167.83 612.18 169.67 612.4 172C612.62 174.33 613 177.33 613.2 180C613.4 182.67 613.53 185.33 613.6 188C613.67 190.67 613.65 193.33 613.6 196C613.55 198.67 613.42 201.5 613.3 204C613.18 206.5 613.05 209 612.9 211C612.75 213 612.68 214.42 612.4 216C612.12 217.58 611.77 219.25 611.2 220.5C610.63 221.75 609.75 222.83 609 223.5C608.25 224.17 607.08 224.33 606.7 224.5L606.7 224.5C606.35 224.17 605.28 223.42 604.6 222.5C603.92 221.58 603.12 220.42 602.6 219C602.08 217.58 601.5 215.67 601.5 214C601.5 212.33 602.28 210.5 602.6 209C602.92 207.5 603.3 206.5 603.4 205C603.5 203.5 603.38 201.75 603.2 200C603.02 198.25 602.67 196.33 602.3 194.5C601.93 192.67 601.42 190.83 601 189C600.58 187.17 600.2 185.33 599.8 183.5C599.4 181.67 599.05 179.92 598.6 178C598.15 176.08 597.6 174 597.1 172C596.6 170 596.23 167.83 595.6 166C594.97 164.17 593.68 161.83 593.3 161L593.3 157C596.18 157 607.72 157 610.6 157Z"/></g><g stroke="#fff" stroke-width="1.2" stroke-linecap="round" fill="none"><path d="M514.65 211.6Q516.84 217 517.5 222.5"/><path d="M605.55 211.6Q603.36 217 602.7 222.5"/></g>
<g fill="#d95764"><path d="M682.3 67.1C681.75 67.15 679.99 67.21 679.01 67.4C678.04 67.59 677.13 67.68 676.46 68.25C675.79 68.82 675.29 70.01 675 70.8C674.71 71.59 674.87 72.22 674.7 73C674.53 73.78 674.6 74.75 674 75.5C673.4 76.25 672.03 76.82 671.1 77.5C670.17 78.18 669.3 78.47 668.4 79.6C667.5 80.73 666.47 82.5 665.7 84.3C664.93 86.1 664.15 89.03 663.8 90.4C663.45 91.77 663.5 91.23 663.6 92.5C663.7 93.77 664.05 96.42 664.4 98C664.75 99.58 665.28 100.83 665.7 102C666.12 103.17 666.6 104 666.9 105C667.2 106 667.37 106.88 667.5 108C667.63 109.12 667.75 110.78 667.7 111.7C667.65 112.62 667.98 112.9 667.2 113.5C666.42 114.1 664.53 114.77 663 115.3C661.47 115.83 659.83 116.2 658 116.7C656.17 117.2 653.95 117.75 652 118.3C650.05 118.85 648.63 119.17 646.3 120C643.97 120.83 640.05 122.33 638 123.3C635.95 124.27 635.12 124.97 634 125.8C632.88 126.63 632.3 127.05 631.3 128.3C630.3 129.55 629.1 131.07 628 133.3C626.9 135.53 625.53 138.92 624.7 141.7C623.87 144.48 623.57 147.62 623 150C622.43 152.38 621.72 154.27 621.3 156C620.88 157.73 620.63 159.67 620.5 160.4L744.6 160.4C744.5 159.67 744.27 157.73 744 156C743.73 154.27 743.45 152.38 743 150C742.55 147.62 742.27 144.48 741.3 141.7C740.33 138.92 738.58 135.53 737.2 133.3C735.82 131.07 734.28 129.55 733 128.3C731.72 127.05 730.88 126.63 729.5 125.8C728.12 124.97 726.9 124.27 724.7 123.3C722.5 122.33 718.58 120.83 716.3 120C714.02 119.17 712.38 118.85 711 118.3C709.62 117.75 709.33 117.2 708 116.7C706.67 116.2 704.67 115.83 703 115.3C701.33 114.77 699.02 114.1 698 113.5C696.98 112.9 697.05 112.62 696.9 111.7C696.75 110.78 696.97 109.12 697.1 108C697.23 106.88 697.4 106 697.7 105C698 104 698.48 103.17 698.9 102C699.32 100.83 699.85 99.58 700.2 98C700.55 96.42 700.9 93.77 701 92.5C701.1 91.23 701.15 91.77 700.8 90.4C700.45 89.03 699.67 86.1 698.9 84.3C698.13 82.5 697.1 80.73 696.2 79.6C695.3 78.47 694.43 78.18 693.5 77.5C692.57 76.82 691.2 76.25 690.6 75.5C690 74.75 690.07 73.78 689.9 73C689.73 72.22 689.89 71.59 689.6 70.8C689.31 70.01 688.81 68.82 688.14 68.25C687.47 67.68 686.56 67.59 685.58 67.4C684.61 67.21 682.85 67.15 682.3 67.1Z"/><path d="M644.6 160.4C644.38 161.55 643.9 165.18 643.3 167.3C642.7 169.42 641.67 171.17 641 173.1C640.33 175.03 639.88 176.97 639.3 178.9C638.72 180.83 638.05 182.77 637.5 184.7C636.95 186.63 636.33 188.62 636 190.5C635.67 192.38 635.57 194.25 635.5 196C635.43 197.75 635.45 199.33 635.6 201C635.75 202.67 636.05 204 636.4 206C636.75 208 637.33 210.67 637.7 213C638.07 215.33 638.3 217.83 638.6 220C638.9 222.17 639.18 224 639.5 226C639.82 228 640.12 230 640.5 232C640.88 234 641.28 236 641.8 238C642.32 240 642.9 242 643.6 244C644.3 246 645.4 247.33 646 250C646.6 252.67 647.12 256.95 647.2 260C647.28 263.05 646.57 265.63 646.5 268.3C646.43 270.97 646.68 274.05 646.8 276C646.92 277.95 646.45 277.67 647.2 280C647.95 282.33 649.92 286.67 651.3 290C652.68 293.33 654.52 297.5 655.5 300C656.48 302.5 656.65 302.83 657.2 305C657.75 307.17 658.67 309.67 658.8 313C658.93 316.33 658.27 322 658 325C657.73 328 657.28 329.33 657.2 331C657.12 332.67 657.03 334.17 657.5 335C657.97 335.83 659.58 335.83 660 336L676 336C676.33 335.83 677.67 335.83 678 335C678.33 334.17 678.42 332.67 678 331C677.58 329.33 676.2 328 675.5 325C674.8 322 673.8 316.33 673.8 313C673.8 309.67 675.35 307.17 675.5 305C675.65 302.83 674.7 302.5 674.7 300C674.7 297.5 675.08 293.33 675.5 290C675.92 286.67 676.92 283.33 677.2 280C677.48 276.67 677.2 273.33 677.2 270C677.2 266.67 676.98 263.33 677.2 260C677.42 256.67 678.08 252.78 678.5 250C678.92 247.22 679.23 245.52 679.7 243.3C680.17 241.08 681.03 237.8 681.3 236.7L681.3 236.7C681.72 237.8 683.18 241.08 683.8 243.3C684.42 245.52 684.58 247.22 685 250C685.42 252.78 685.52 256.67 686.3 260C687.08 263.33 689.13 266.67 689.7 270C690.27 273.33 689.57 276.67 689.7 280C689.83 283.33 690.23 286.67 690.5 290C690.77 293.33 691.3 297.5 691.3 300C691.3 302.5 690.5 302.83 690.5 305C690.5 307.17 691.43 309.67 691.3 313C691.17 316.33 690.25 322 689.7 325C689.15 328 688.25 329.33 688 331C687.75 332.67 687.87 334.17 688.2 335C688.53 335.83 689.7 335.83 690 336L707 336C707.42 335.83 709.05 335.83 709.5 335C709.95 334.17 709.82 332.67 709.7 331C709.58 329.33 709.08 328 708.8 325C708.52 322 707.72 316.33 708 313C708.28 309.67 709.8 307.17 710.5 305C711.2 302.83 711.23 302.5 712.2 300C713.17 297.5 715.2 293.33 716.3 290C717.4 286.67 718.43 282.33 718.8 280C719.17 277.67 718.5 277.95 718.5 276C718.5 274.05 718.6 270.97 718.8 268.3C719 265.63 719.28 263.05 719.7 260C720.12 256.95 720.62 253.33 721.3 250C721.98 246.67 723.27 242.5 723.8 240C724.33 237.5 724.22 236.83 724.5 235C724.78 233.17 725 230.58 725.5 229C726 227.42 726.67 226.58 727.5 225.5C728.33 224.42 729.55 223.5 730.5 222.5C731.45 221.5 732.65 220.58 733.2 219.5C733.75 218.42 733.8 217.25 733.8 216C733.8 214.75 733.47 213.55 733.2 212C732.93 210.45 732.6 208.7 732.2 206.7C731.8 204.7 731.32 202.62 730.8 200C730.28 197.38 729.67 193.83 729.1 191C728.53 188.17 728 185.67 727.4 183C726.8 180.33 726.15 177.67 725.5 175C724.85 172.33 724.2 169.43 723.5 167C722.8 164.57 721.67 161.5 721.3 160.4L721.3 156.4C708.52 156.4 657.38 156.4 644.6 156.4Z"/><path d="M620.5 160.4C620.45 161.5 620.35 164.57 620.2 167C620.05 169.43 619.77 172.33 619.6 175C619.43 177.67 619.27 180.33 619.2 183C619.13 185.67 619.17 188.33 619.2 191C619.23 193.67 619.3 196.5 619.4 199C619.5 201.5 619.65 204 619.8 206C619.95 208 620.07 209.42 620.3 211C620.53 212.58 620.82 214.17 621.2 215.5C621.58 216.83 621.88 217.95 622.6 219C623.32 220.05 625.02 221.33 625.5 221.8L625.5 221.8C626 221.67 627.5 221.47 628.5 221C629.5 220.53 630.62 219.83 631.5 219C632.38 218.17 633.28 217.17 633.8 216C634.32 214.83 634.57 213.67 634.6 212C634.63 210.33 634.18 208 634 206C633.82 204 633.57 201.67 633.5 200C633.43 198.33 633.52 197.58 633.6 196C633.68 194.42 633.68 192.38 634 190.5C634.32 188.62 634.95 186.63 635.5 184.7C636.05 182.77 636.72 180.83 637.3 178.9C637.88 176.97 638.33 175.03 639 173.1C639.67 171.17 640.37 169.42 641.3 167.3C642.23 165.18 644.05 161.55 644.6 160.4L644.6 156.4C640.75 156.4 625.35 156.4 621.5 156.4Z"/><path d="M744.6 160.4C744.62 161.5 744.65 164.57 744.7 167C744.75 169.43 744.82 172.33 744.9 175C744.98 177.67 745.1 180.33 745.2 183C745.3 185.67 745.42 188.33 745.5 191C745.58 193.67 745.63 196.5 745.7 199C745.77 201.5 745.88 204 745.9 206C745.92 208 745.92 209.42 745.8 211C745.68 212.58 745.53 214.17 745.2 215.5C744.87 216.83 744.42 218.03 743.8 219C743.18 219.97 742.3 220.83 741.5 221.3C740.7 221.77 739.42 221.72 739 221.8L739 221.8C738.7 221.67 737.63 221.47 737.2 221C736.77 220.53 736.57 219.83 736.4 219C736.23 218.17 736.33 217.17 736.2 216C736.07 214.83 735.87 213.55 735.6 212C735.33 210.45 735.03 208.7 734.6 206.7C734.17 204.7 733.55 202.62 733 200C732.45 197.38 731.87 193.83 731.3 191C730.73 188.17 730.22 185.67 729.6 183C728.98 180.33 728.3 177.67 727.6 175C726.9 172.33 726.45 169.43 725.4 167C724.35 164.57 721.98 161.5 721.3 160.4L721.3 156.4C725.02 156.4 739.88 156.4 743.6 156.4Z"/></g><g stroke="#fff" stroke-width="1.2" stroke-linecap="round" fill="none"><path d="M629.38 211.6Q632 217 632.79 222.5"/><path d="M739.34 211.6Q737.47 217 736.91 222.5"/></g>
<rect x="20" y="376" width="104" height="60" fill="#55b9e7"/><rect x="142.2" y="376" width="104" height="60" fill="#62c89d"/><rect x="264.4" y="376" width="104" height="60" fill="#f2e15b"/><rect x="386.8" y="376" width="104" height="60" fill="#f8ab36"/><rect x="508.8" y="376" width="104" height="60" fill="#f37a4c"/><rect x="631" y="376" width="104" height="60" fill="#d95764"/>
<g filter="url(#dx)"><text transform="translate(152.28 42.7) scale(0.4972 1)" font-size="64.25" class="t">B</text><text transform="translate(187.27 42.7) scale(0.3398 1)" font-size="64.25" class="t">O</text><text transform="translate(219.38 42.7) scale(0.4205 1)" font-size="64.25" class="t">D</text><text transform="translate(251.13 42.7) scale(0.4772 1)" font-size="64.25" class="t">Y</text><text x="291.9" y="42.7" font-size="40" class="t"> </text><text transform="translate(309.8 42.7) scale(0.5887 1)" font-size="64.25" class="t">M</text><text transform="translate(352.34 42.7) scale(0.4977 1)" font-size="64.25" class="t">A</text><text transform="translate(386.65 42.7) scale(0.4299 1)" font-size="64.25" class="t">S</text><text transform="translate(416.85 42.7) scale(0.4299 1)" font-size="64.25" class="t">S</text><text x="456.55" y="42.7" font-size="40" class="t"> </text><text transform="translate(476.73 42.7) scale(0.4006 1)" font-size="64.25" class="t">I</text><text transform="translate(496.1 42.7) scale(0.5322 1)" font-size="64.25" class="t">N</text><text transform="translate(532.08 42.7) scale(0.4205 1)" font-size="64.25" class="t">D</text><text transform="translate(565.55 42.7) scale(0.3978 1)" font-size="64.25" class="t">E</text><text transform="translate(594.01 42.7) scale(0.4768 1)" font-size="64.25" class="t">X</text></g>
<text transform="translate(23.92 364.9) scale(0.4865 1)" font-size="23.4" class="l" letter-spacing="2">UNDERWEIGHT</text>
<text transform="translate(165.1 364.9) scale(0.5185 1)" font-size="23.4" class="l" letter-spacing="2">NORMAL</text>
<text transform="translate(273.27 364.9) scale(0.4805 1)" font-size="23.4" class="l" letter-spacing="2">OVERWEIGHT</text>
<text transform="translate(385.01 364.9) scale(0.4628 1)" font-size="23.4" class="l" letter-spacing="2">SEVERE OBESITY</text>
<text transform="translate(503.65 364.9) scale(0.4935 1)" font-size="23.4" class="l" letter-spacing="2">MORBID OBESITY</text>
<text transform="translate(632.5 364.9) scale(0.4678 1)" font-size="23.4" class="l" letter-spacing="2">SUPER OBESITY</text>
<text transform="translate(60.51 413.4) scale(0.6413 1)" font-size="28.49" class="n"><tspan x="-19.46" y="-2.3" font-size="19.5" textLength="18.34" lengthAdjust="spacingAndGlyphs">&lt; </tspan><tspan x="0" y="0">18.5</tspan></text>
<text transform="translate(147.52 413.4) scale(0.6827 1)" font-size="28.49" class="n">18.5 - 24.5</text>
<text transform="translate(286.32 413.4) scale(0.6872 1)" font-size="28.49" class="n">25 - 30</text>
<text transform="translate(399.66 413.4) scale(0.6853 1)" font-size="28.49" class="n">35 - 39.5</text>
<text transform="translate(522.55 413.4) scale(0.6880 1)" font-size="28.49" class="n">40 - 44.5</text>
<text transform="translate(653.36 413.4) scale(0.6753 1)" font-size="28.49" class="n">45 - 50</text>
<rect x="660" y="185.5" width="140" height="43.5" rx="21.75" fill="#ffffff" fill-opacity="0.47"/>
<rect x="679.8" y="207.8" width="8.6" height="6" fill="#bdb8c3" fill-opacity="0.85"/>
<rect x="672" y="213" width="16.4" height="4.4" fill="#bdb8c3" fill-opacity="0.85"/>
<text transform="translate(758.6 216.4) scale(1.097 1.13)" font-size="24" text-anchor="end" class="wm">دکتسلا</text>
</svg>
</body></html>
